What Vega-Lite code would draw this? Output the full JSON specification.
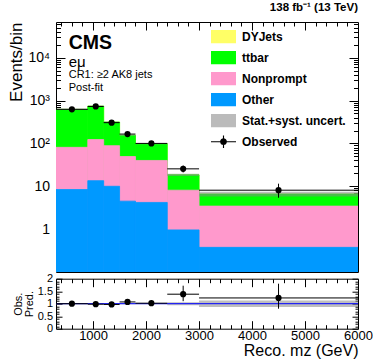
{
  "$schema": "https://vega.github.io/schema/vega-lite/v6.json",
  "padding": {"left": 7, "top": 1, "right": 0, "bottom": 0},
  "bounds": "flush",
  "config": {
    "font": "Liberation Sans",
    "view": {"stroke": "black", "strokeWidth": 1},
    "axis": {"domain": false, "grid": false, "labelFont": "Liberation Sans", "titleFont": "Liberation Sans", "labelColor": "black", "titleColor": "black", "tickColor": "black", "titleFontWeight": "normal", "labelOverlap": false, "labelFlush": false, "labelBound": false},
    "concat": {"spacing": 6.7},
    "text": {"font": "Liberation Sans", "color": "black"}
  },
  "resolve": {"legend": {"color": "independent"}},
  "datasets": {
    "bkg": [
      {"lo": 300, "hi": 900, "process": "DYJets", "value": 0.4},
      {"lo": 900, "hi": 1200, "process": "DYJets", "value": 0.5},
      {"lo": 1200, "hi": 1500, "process": "DYJets", "value": 0.3},
      {"lo": 1500, "hi": 1800, "process": "DYJets", "value": 0.2},
      {"lo": 1800, "hi": 2400, "process": "DYJets", "value": 0.15},
      {"lo": 2400, "hi": 3000, "process": "DYJets", "value": 0.03},
      {"lo": 3000, "hi": 6000, "process": "DYJets", "value": 0.01},
      {"lo": 300, "hi": 900, "process": "ttbar", "value": 540},
      {"lo": 900, "hi": 1200, "process": "ttbar", "value": 617},
      {"lo": 1200, "hi": 1500, "process": "ttbar", "value": 226},
      {"lo": 1500, "hi": 1800, "process": "ttbar", "value": 105},
      {"lo": 1800, "hi": 2400, "process": "ttbar", "value": 58},
      {"lo": 2400, "hi": 3000, "process": "ttbar", "value": 10.4},
      {"lo": 3000, "hi": 6000, "process": "ttbar", "value": 3.15},
      {"lo": 300, "hi": 900, "process": "Nonprompt", "value": 72.6},
      {"lo": 900, "hi": 1200, "process": "Nonprompt", "value": 109.5},
      {"lo": 1200, "hi": 1500, "process": "Nonprompt", "value": 78.5},
      {"lo": 1500, "hi": 1800, "process": "Nonprompt", "value": 45},
      {"lo": 1800, "hi": 2400, "process": "Nonprompt", "value": 35.8},
      {"lo": 2400, "hi": 3000, "process": "Nonprompt", "value": 7.14},
      {"lo": 3000, "hi": 6000, "process": "Nonprompt", "value": 3.07},
      {"lo": 300, "hi": 900, "process": "Other", "value": 8.4},
      {"lo": 900, "hi": 1200, "process": "Other", "value": 13.5},
      {"lo": 1200, "hi": 1500, "process": "Other", "value": 10},
      {"lo": 1500, "hi": 1800, "process": "Other", "value": 4.5},
      {"lo": 1800, "hi": 2400, "process": "Other", "value": 4.2},
      {"lo": 2400, "hi": 3000, "process": "Other", "value": 0.96},
      {"lo": 3000, "hi": 6000, "process": "Other", "value": 0.376}
    ],
    "tot": [
      {"lo": 300, "hi": 900, "m": 600, "mc_dn": 606, "mc_up": 637, "obs": 625, "obs_dn": 600, "obs_up": 650, "ratio": 1.0, "ratio_dn": 0.96, "ratio_up": 1.04, "unc_dn": 0.975, "unc_up": 1.025},
      {"lo": 900, "hi": 1200, "m": 1050, "mc_dn": 722, "mc_up": 759, "obs": 728, "obs_dn": 701, "obs_up": 755, "ratio": 0.98, "ratio_dn": 0.945, "ratio_up": 1.015, "unc_dn": 0.975, "unc_up": 1.025},
      {"lo": 1200, "hi": 1500, "m": 1350, "mc_dn": 307, "mc_up": 323, "obs": 305, "obs_dn": 287.5, "obs_up": 322.5, "ratio": 0.97, "ratio_dn": 0.915, "ratio_up": 1.025, "unc_dn": 0.975, "unc_up": 1.025},
      {"lo": 1500, "hi": 1800, "m": 1650, "mc_dn": 150.8, "mc_up": 158.6, "obs": 165, "obs_dn": 152, "obs_up": 178, "ratio": 1.07, "ratio_dn": 0.99, "ratio_up": 1.15, "unc_dn": 0.975, "unc_up": 1.025},
      {"lo": 1800, "hi": 2400, "m": 2100, "mc_dn": 95.7, "mc_up": 100.6, "obs": 100, "obs_dn": 90, "obs_up": 110, "ratio": 1.02, "ratio_dn": 0.92, "ratio_up": 1.12, "unc_dn": 0.975, "unc_up": 1.025},
      {"lo": 2400, "hi": 3000, "m": 2700, "mc_dn": 17.4, "mc_up": 19.6, "obs": 25.5, "obs_dn": 21, "obs_up": 30.5, "ratio": 1.38, "ratio_dn": 1.1, "ratio_up": 1.72, "unc_dn": 0.94, "unc_up": 1.06},
      {"lo": 3000, "hi": 6000, "m": 4500, "mc_dn": 5.75, "mc_up": 7.46, "obs": 8.1, "obs_dn": 5.4, "obs_up": 11.5, "ratio": 1.23, "ratio_dn": 0.8, "ratio_up": 1.8, "unc_dn": 0.87, "unc_up": 1.13}
    ]
  },
  "vconcat": [
    {
      "width": 302,
      "height": 250,
      "title": {"text": "138 fb⁻¹ (13 TeV)", "anchor": "end", "frame": "group", "fontSize": 11.5, "fontWeight": "bold", "offset": 4, "color": "black", "font": "Liberation Sans"},
      "resolve": {"axis": {"x": "independent", "y": "independent"}},
      "layer": [
        {
          "data": {"name": "bkg"},
          "transform": [
            {"calculate": "indexof(['Other','Nonprompt','ttbar','DYJets'], datum.process)", "as": "ord"},
            {"stack": "value", "groupby": ["lo"], "sort": [{"field": "ord", "order": "ascending"}], "as": ["v0", "v1"]}
          ],
          "mark": {"type": "rect", "clip": true, "strokeWidth": 0.8},
          "encoding": {
            "x": {"field": "lo", "type": "quantitative", "scale": {"domain": [300, 6000], "nice": false, "zero": false},
              "axis": {"orient": "bottom", "labels": false, "title": null,
                "values": [400,600,800,1000,1200,1400,1600,1800,2000,2200,2400,2600,2800,3000,3200,3400,3600,3800,4000,4200,4400,4600,4800,5000,5200,5400,5600,5800],
                "tickSize": {"condition": {"test": "datum.value % 1000 === 0", "value": -8}, "value": -4}}},
            "x2": {"field": "hi"},
            "y": {"field": "v1", "type": "quantitative", "stack": null,
              "scale": {"type": "log", "domain": [0.1, 68000], "nice": false, "clamp": true},
              "axis": {"orient": "left", "title": "Events/bin", "titleFontSize": 17, "titleAnchor": "end", "titlePadding": 2,
                "labelFontSize": 14, "labelPadding": 15.5,
                "values": [0.2,0.3,0.4,0.5,0.6,0.7,0.8,0.9,1,2,3,4,5,6,7,8,9,10,20,30,40,50,60,70,80,90,100,200,300,400,500,600,700,800,900,1000,2000,3000,4000,5000,6000,7000,8000,9000,10000,20000,30000,40000,50000,60000],
                "labelExpr": "datum.value === 1 ? '1' : datum.value === 10 ? '10' : datum.value === 100 ? '10²' : datum.value === 1000 ? '10³' : datum.value === 10000 ? '10⁴' : ''",
                "tickSize": {"condition": {"test": "indexof([1,10,100,1000,10000], datum.value) >= 0", "value": -9}, "value": -4.5}}},
            "y2": {"datum": 0.1},
            "color": {"field": "process", "type": "nominal",
              "scale": {"domain": ["DYJets", "ttbar", "Nonprompt", "Other", "Stat.+syst. uncert.", "Observed"], "range": ["#ffff66", "#00ff00", "#ff99cc", "#0099ff", "#bbbbbb", "#000000"]},
              "legend": {"orient": "none", "legendX": 155, "legendY": 4.5, "title": null, "padding": 0,
                "symbolType": "M-1,-0.53H1V0.53H-1Z", "symbolSize": 625, "symbolStrokeWidth": 0, "symbolOpacity": 1,
                "labelFont": "Liberation Sans", "labelFontSize": 12, "labelFontWeight": "bold", "labelColor": "black", "labelOffset": 6, "rowPadding": 0, "clipHeight": 20.4,
                "encode": {"symbols": {"update": {"shape": {"signal": "datum.label === 'Observed' ? 'M-1,-0.045H1V0.045H-1Z M-0.045,-0.5H0.045V0.5H-0.045Z M0.27,0A0.27,0.27 0 1,1 -0.27,0A0.27,0.27 0 1,1 0.27,0Z' : 'M-1,-0.53H1V0.53H-1Z'"}}}}}},
            "stroke": {"field": "process", "type": "nominal", "legend": null,
              "scale": {"domain": ["DYJets", "ttbar", "Nonprompt", "Other", "Stat.+syst. uncert.", "Observed"], "range": ["#ffff66", "#00ff00", "#ff99cc", "#0099ff", "#bbbbbb", "#000000"]}}
          }
        },
        {
          "data": {"name": "tot"},
          "mark": {"type": "rect", "color": "#888888", "opacity": 0.55},
          "encoding": {
            "x": {"field": "lo", "type": "quantitative", "scale": {"domain": [300, 6000], "nice": false, "zero": false},
              "axis": {"orient": "top", "labels": false, "title": null,
                "values": [400,600,800,1000,1200,1400,1600,1800,2000,2200,2400,2600,2800,3000,3200,3400,3600,3800,4000,4200,4400,4600,4800,5000,5200,5400,5600,5800],
                "tickSize": {"condition": {"test": "datum.value % 1000 === 0", "value": -8}, "value": -4}}},
            "x2": {"field": "hi"},
            "y": {"field": "mc_dn", "type": "quantitative", "scale": {"type": "log", "domain": [0.1, 68000], "nice": false, "clamp": true},
              "axis": {"orient": "right", "labels": false, "title": null,
                "values": [0.2,0.3,0.4,0.5,0.6,0.7,0.8,0.9,1,2,3,4,5,6,7,8,9,10,20,30,40,50,60,70,80,90,100,200,300,400,500,600,700,800,900,1000,2000,3000,4000,5000,6000,7000,8000,9000,10000,20000,30000,40000,50000,60000],
                "tickSize": {"condition": {"test": "indexof([1,10,100,1000,10000], datum.value) >= 0", "value": -9}, "value": -4.5}}},
            "y2": {"field": "mc_up"}
          }
        },
        {
          "data": {"name": "tot"},
          "mark": {"type": "rule", "color": "black", "strokeWidth": 1},
          "encoding": {
            "x": {"field": "lo", "type": "quantitative", "axis": null},
            "x2": {"field": "hi"},
            "y": {"field": "obs", "type": "quantitative", "axis": null}
          }
        },
        {
          "data": {"name": "tot"},
          "mark": {"type": "rule", "color": "black", "strokeWidth": 1},
          "encoding": {
            "x": {"field": "m", "type": "quantitative", "axis": null},
            "y": {"field": "obs_dn", "type": "quantitative", "axis": null},
            "y2": {"field": "obs_up"}
          }
        },
        {
          "data": {"name": "tot"},
          "mark": {"type": "point", "shape": "circle", "filled": true, "color": "black", "size": 38, "opacity": 1},
          "encoding": {
            "x": {"field": "m", "type": "quantitative", "axis": null},
            "y": {"field": "obs", "type": "quantitative", "axis": null}
          }
        },
        {
          "data": {"values": [{}]},
          "mark": {"type": "text", "text": "CMS", "fontSize": 19.5, "fontWeight": "bold", "align": "left", "baseline": "alphabetic"},
          "encoding": {"x": {"datum": 540, "type": "quantitative", "axis": null}, "y": {"datum": 16000, "type": "quantitative", "axis": null}}
        },
        {
          "data": {"values": [{}]},
          "mark": {"type": "text", "text": "eμ", "fontSize": 15, "align": "left", "baseline": "alphabetic"},
          "encoding": {"x": {"datum": 540, "type": "quantitative", "axis": null}, "y": {"datum": 6200, "type": "quantitative", "axis": null}}
        },
        {
          "data": {"values": [{}]},
          "mark": {"type": "text", "text": "CR1: ≥2 AK8 jets", "fontSize": 11, "align": "left", "baseline": "alphabetic"},
          "encoding": {"x": {"datum": 540, "type": "quantitative", "axis": null}, "y": {"datum": 3300, "type": "quantitative", "axis": null}}
        },
        {
          "data": {"values": [{}]},
          "mark": {"type": "text", "text": "Post-fit", "fontSize": 11, "align": "left", "baseline": "alphabetic"},
          "encoding": {"x": {"datum": 540, "type": "quantitative", "axis": null}, "y": {"datum": 1700, "type": "quantitative", "axis": null}}
        }
      ]
    },
    {
      "width": 302,
      "height": 50,
      "resolve": {"axis": {"x": "independent", "y": "independent"}},
      "layer": [
        {
          "data": {"name": "tot"},
          "mark": {"type": "rect", "color": "#888888", "opacity": 0.55},
          "encoding": {
            "x": {"field": "lo", "type": "quantitative", "scale": {"domain": [300, 6000], "nice": false, "zero": false},
              "axis": {"orient": "bottom", "title": "Reco. mᴢ (GeV)", "titleFontSize": 16, "titleAnchor": "end", "titleBaseline": "alphabetic", "titleY": 27,
                "labelFontSize": 13, "labelPadding": 9,
                "values": [400,600,800,1000,1200,1400,1600,1800,2000,2200,2400,2600,2800,3000,3200,3400,3600,3800,4000,4200,4400,4600,4800,5000,5200,5400,5600,5800,6000],
                "labelExpr": "datum.value % 1000 === 0 ? format(datum.value, 'd') : ''",
                "tickSize": {"condition": {"test": "datum.value % 1000 === 0", "value": -8}, "value": -4}}},
            "x2": {"field": "hi"},
            "y": {"field": "unc_dn", "type": "quantitative", "scale": {"domain": [0, 2], "nice": false, "zero": false},
              "axis": {"orient": "left", "title": ["Obs.", "Pred."], "titleFontSize": 11, "titleLineHeight": 11, "titlePadding": 3,
                "labelFontSize": 11, "labelPadding": 9.5,
                "values": [0,0.1,0.2,0.3,0.4,0.5,0.6,0.7,0.8,0.9,1,1.1,1.2,1.3,1.4,1.5,1.6,1.7,1.8,1.9,2],
                "labelExpr": "indexof([0,0.5,1,1.5,2], datum.value) >= 0 ? datum.value + '' : ''",
                "tickSize": {"condition": {"test": "indexof([0,0.5,1,1.5,2], datum.value) >= 0", "value": -6}, "value": -3}}},
            "y2": {"field": "unc_up"}
          }
        },
        {
          "data": {"values": [{}]},
          "mark": {"type": "rule", "color": "#0000ff", "strokeWidth": 1},
          "encoding": {
            "y": {"datum": 1, "type": "quantitative", "scale": {"domain": [0, 2], "nice": false, "zero": false},
              "axis": {"orient": "right", "labels": false, "title": null,
                "values": [0,0.1,0.2,0.3,0.4,0.5,0.6,0.7,0.8,0.9,1,1.1,1.2,1.3,1.4,1.5,1.6,1.7,1.8,1.9,2],
                "tickSize": {"condition": {"test": "indexof([0,0.5,1,1.5,2], datum.value) >= 0", "value": -6}, "value": -3}}}
          }
        },
        {
          "data": {"name": "tot"},
          "mark": {"type": "rule", "color": "black", "strokeWidth": 1},
          "encoding": {
            "x": {"field": "lo", "type": "quantitative",
              "axis": {"orient": "top", "labels": false, "title": null,
                "values": [400,600,800,1000,1200,1400,1600,1800,2000,2200,2400,2600,2800,3000,3200,3400,3600,3800,4000,4200,4400,4600,4800,5000,5200,5400,5600,5800],
                "tickSize": {"condition": {"test": "datum.value % 1000 === 0", "value": -8}, "value": -4}}},
            "x2": {"field": "hi"},
            "y": {"field": "ratio", "type": "quantitative", "axis": null}
          }
        },
        {
          "data": {"name": "tot"},
          "mark": {"type": "rule", "color": "black", "strokeWidth": 1},
          "encoding": {
            "x": {"field": "m", "type": "quantitative", "axis": null},
            "y": {"field": "ratio_dn", "type": "quantitative", "axis": null},
            "y2": {"field": "ratio_up"}
          }
        },
        {
          "data": {"name": "tot"},
          "mark": {"type": "point", "shape": "circle", "filled": true, "color": "black", "size": 38, "opacity": 1},
          "encoding": {
            "x": {"field": "m", "type": "quantitative", "axis": null},
            "y": {"field": "ratio", "type": "quantitative", "axis": null}
          }
        }
      ]
    }
  ]
}
